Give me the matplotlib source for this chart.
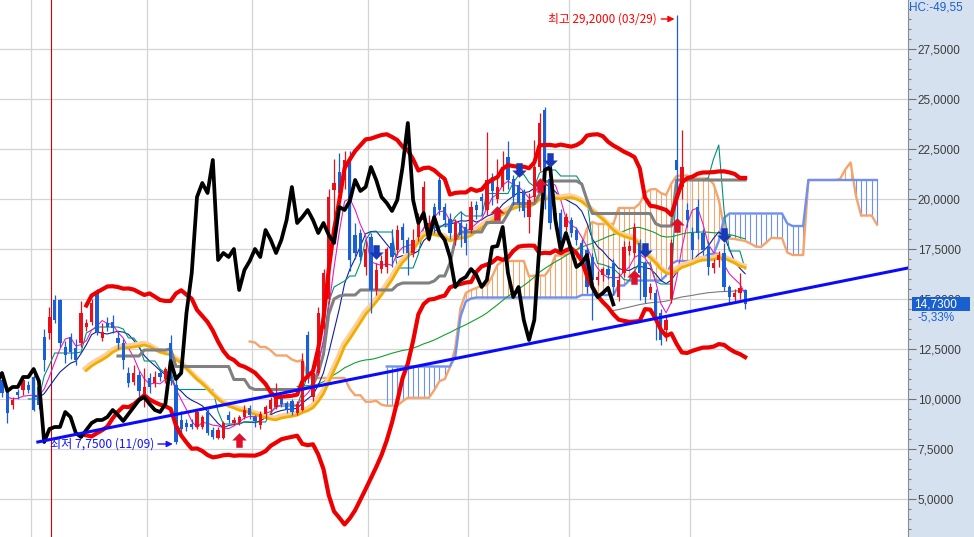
import numpy as np
import pandas as pd
import matplotlib
matplotlib.use('Agg')
import matplotlib.pyplot as plt
import matplotlib.patheffects as pe
from matplotlib.path import Path
from matplotlib.patches import Rectangle
from matplotlib.ticker import FuncFormatter
from matplotlib.transforms import blended_transform_factory

plt.rcParams['font.family'] = ['Liberation Sans', 'Noto Sans CJK KR', 'DejaVu Sans']

# ---------------- data (first 3 candles lie just left of the visible area) ----------------
opens = [10.6, 10.4, 10.1,
         10.95, 10.45, 9.7, 10.35, 10.45, 10.7, 11.1, 10.6, 13.1, 13.3,
         14.95, 14.95, 12.6, 13.1, 12.55, 12.8, 13.6, 13.85, 15.35, 13.05,
         13.8, 13.85, 13.05, 12.8, 11.3, 10.85, 11.2, 10.0, 11.05, 10.8,
         11.3, 11.0, 12.8, 10.7, 8.95, 8.8, 8.75, 8.6, 8.6, 9.35,
         8.45, 8.05, 8.05, 9.2, 8.8, 8.85, 9.1, 9.55, 9.1, 8.7,
         9.25, 9.5, 9.6, 10.1, 9.8, 9.9, 9.3, 9.45, 13.2, 10.1,
         11.3, 13.95, 15.0, 20.45, 21.35, 20.95, 21.95, 18.2, 18.3, 16.6,
         18.1, 15.45, 16.5, 16.6, 17.8, 17.45, 18.6, 17.95, 17.3, 18.1,
         18.95, 18.1, 19.6, 20.95, 19.6, 19.0, 17.95, 18.8, 18.6, 18.45,
         19.7, 20.1, 19.45, 21.1, 20.0, 20.6, 22.1, 21.0, 20.7, 20.4,
         19.1, 20.1, 21.6, 24.45, 21.0, 18.8, 19.3, 18.6, 18.95, 18.45,
         17.8, 17.45, 17.1, 15.95, 16.2, 16.5, 16.8, 15.1, 16.3, 17.4,
         17.3, 17.8, 16.8, 15.3, 15.3, 14.3, 13.45, 15.0, 21.95, 20.6,
         19.45, 18.3, 19.6, 18.3, 17.6, 16.55, 16.95, 17.3, 15.6, 15.1,
         15.3, 15.45]
highs = [10.9, 10.6, 10.6,
         11.2, 10.6, 10.1, 10.5, 11.1, 10.9, 11.2, 11.0, 13.5, 14.6,
         15.2, 15.0, 12.9, 13.3, 13.0, 14.9, 14.0, 15.0, 15.5, 13.8,
         14.1, 14.2, 13.4, 13.0, 11.6, 11.7, 11.4, 11.55, 11.3, 11.4,
         11.5, 11.6, 13.2, 11.0, 9.4, 9.0, 9.0, 9.5, 9.2, 9.5,
         8.6, 8.6, 8.9, 9.4, 9.1, 9.2, 9.7, 9.7, 9.2, 9.4,
         9.7, 10.1, 10.8, 10.2, 9.9, 10.0, 9.9, 12.3, 13.4, 11.6,
         14.6, 16.5, 20.5, 22.0, 22.3, 22.4, 22.4, 18.8, 18.5, 17.9,
         18.3, 16.8, 17.2, 17.6, 18.5, 18.7, 18.8, 18.1, 18.5, 19.3,
         20.9, 19.2, 19.8, 21.1, 19.8, 19.3, 19.0, 19.4, 18.8, 19.9,
         19.9, 20.3, 23.35, 21.3, 22.0, 22.4, 22.9, 21.2, 20.9, 20.5,
         20.3, 22.95, 24.3, 24.6, 21.8, 19.6, 19.5, 19.3, 19.1, 18.6,
         18.0, 17.6, 17.3, 16.4, 16.6, 16.7, 17.0, 16.3, 17.9, 17.9,
         18.8, 18.0, 16.9, 15.8, 15.5, 14.5, 14.2, 18.0, 29.2, 23.45,
         19.8, 18.6, 20.0, 18.5, 17.9, 17.0, 17.4, 17.8, 15.7, 15.5,
         16.3, 15.5]
lows = [10.2, 9.9, 10.0,
        10.1, 8.8, 9.5, 10.0, 10.2, 10.3, 9.4, 9.5, 11.4, 13.0,
        13.8, 12.6, 11.8, 12.0, 11.7, 12.6, 13.4, 13.7, 13.2, 12.9,
        13.4, 13.3, 12.5, 11.5, 10.6, 10.7, 9.9, 9.6, 10.3, 10.6,
        10.9, 10.8, 10.7, 7.75, 8.2, 8.4, 8.5, 8.5, 8.5, 8.2,
        8.0, 8.0, 8.0, 8.8, 8.7, 8.7, 9.0, 9.0, 8.6, 8.5,
        9.0, 9.3, 9.5, 9.6, 9.3, 9.2, 9.2, 9.4, 10.8, 9.9,
        11.2, 13.5, 14.8, 19.0, 19.9, 20.5, 16.4, 17.0, 16.9, 16.2,
        14.3, 15.2, 16.3, 16.3, 16.6, 17.2, 17.3, 16.2, 17.1, 17.9,
        18.6, 17.9, 18.3, 19.2, 18.6, 18.0, 17.7, 17.6, 17.2, 18.3,
        19.0, 19.2, 19.2, 19.7, 19.8, 20.4, 20.5, 19.7, 19.4, 19.1,
        18.3, 19.9, 21.4, 19.5, 18.5, 18.5, 17.7, 18.4, 18.1, 17.7,
        16.9, 15.3, 13.95, 15.7, 15.9, 16.0, 15.2, 14.9, 16.1, 17.2,
        17.1, 14.95, 14.8, 15.0, 12.95, 12.7, 12.9, 14.8, 18.6, 20.0,
        18.6, 17.0, 18.0, 17.2, 16.2, 16.3, 16.6, 15.4, 14.8, 14.9,
        15.0, 14.5]
closes = [10.4, 10.1, 10.4,
          10.3, 9.3, 9.95, 10.2, 10.95, 10.45, 9.45, 9.7, 11.95, 14.1,
          13.95, 12.8, 12.2, 12.35, 11.95, 14.3, 13.8, 14.8, 13.35, 13.35,
          13.6, 13.55, 12.8, 11.95, 10.8, 11.3, 10.4, 10.6, 10.6, 11.1,
          11.1, 11.5, 10.9, 7.85, 8.5, 8.6, 8.6, 9.35, 9.1, 8.3,
          8.1, 8.45, 8.8, 8.95, 8.95, 9.1, 9.45, 9.2, 8.9, 9.25,
          9.6, 9.95, 10.1, 9.75, 9.45, 9.35, 9.75, 11.9, 11.0, 11.3,
          14.3, 16.3, 20.1, 20.8, 20.3, 21.95, 16.95, 17.3, 17.1, 17.5,
          15.45, 16.45, 16.9, 17.5, 17.1, 18.45, 17.95, 17.3, 17.95, 18.95,
          20.6, 18.8, 19.1, 19.45, 18.95, 18.3, 18.8, 18.2, 17.8, 19.6,
          19.45, 19.9, 20.95, 20.4, 20.6, 21.6, 20.95, 20.1, 19.8, 19.4,
          19.95, 21.6, 23.8, 19.95, 18.8, 19.3, 18.0, 19.1, 18.3, 17.95,
          17.1, 15.6, 15.95, 16.1, 16.5, 16.2, 15.6, 15.95, 17.6, 17.65,
          18.6, 16.3, 15.1, 15.6, 13.95, 12.95, 13.95, 17.8, 21.45, 21.6,
          18.95, 17.45, 18.3, 17.45, 16.6, 16.8, 17.2, 15.6, 15.1, 15.3,
          15.56, 14.73]

n_hidden = 3
month_starts = [5.5, 27.5, 47.5, 69.5, 88.5, 107.5, 130.5]
cursor_idx = 9.3
trend_x = [6.8, 171.9]
trend_y = [7.85, 16.55]
buy_idx = [45, 94, 102, 120, 128]
buy_level = [7.95, 19.3, 20.7, 16.1, 18.7]
sell_idx = [71, 98, 104, 122, 137]
sell_level = [17.35, 21.45, 21.95, 17.45, 18.2]
low_label = "최저 7,7500 (11/09)"
high_label = "최고 29,2000 (03/29)"

# ---------------- indicators ----------------
o = np.array(opens); h = np.array(highs); l = np.array(lows); c = np.array(closes)
x = np.arange(len(c)) - n_hidden
C = pd.Series(c); H = pd.Series(h); L = pd.Series(l)
ma5 = C.rolling(5).mean()
ma10 = C.rolling(10).mean()
ma20 = C.rolling(20).mean()
ma60 = C.rolling(60).mean()
ma120 = C.rolling(120).mean()
sd20 = C.rolling(20).std(ddof=0)
bb_up = ma20 + 2 * sd20
bb_dn = ma20 - 2 * sd20
tenkan = (H.rolling(9).max() + L.rolling(9).min()) / 2
kijun = (H.rolling(26).max() + L.rolling(26).min()) / 2
spanA = (tenkan + kijun) / 2
spanB = (H.rolling(52).max() + L.rolling(52).min()) / 2
shift = 25

# ---------------- figure ----------------
fig = plt.figure(figsize=(9.74, 5.37), dpi=100)
fig.patch.set_facecolor('#d6e1ef')
ax = fig.add_axes([0, 0, 908 / 974, 1])
ax.set_facecolor('white')
ax.set_xlim(-0.38, 171.9)
ax.set_ylim(3.1, 29.95)
for s in ['top', 'left', 'bottom']:
    ax.spines[s].set_visible(False)
ax.spines['right'].set_color('#8c8c8c')
ax.yaxis.tick_right()
ax.set_yticks(np.arange(5, 28.0, 2.5))
ax.set_yticks(np.arange(3.5, 30.0, 0.5), minor=True)
ax.yaxis.set_major_formatter(FuncFormatter(lambda v, p: f"{v:.4f}".replace('.', ',')))
ax.tick_params(axis='y', which='major', length=6, width=0.8, color='#707070',
               labelcolor='#3c3c3c', labelsize=8.5, pad=1)
ax.tick_params(axis='y', which='minor', length=2.5, width=0.8, color='#808080')
ax.set_xticks([])
ax.grid(axis='y', which='major', color='#d4d4d4', lw=0.9, zorder=0)
ax.set_axisbelow(True)
for m in month_starts:
    ax.axvline(m, color='#d4d4d4', lw=0.9, zorder=0.5)
ax.axvline(cursor_idx, color='#d80000', lw=0.8, zorder=1.5)

# Ichimoku cloud
xa = x + shift
valid = (~spanA.isna() & ~spanB.isna()).values
A = spanA.values; B = spanB.values
hcol = np.where(A >= B, '#f5a46c', '#6e90f0')
ax.vlines(xa[valid], A[valid], B[valid], colors=hcol[valid], lw=0.8, zorder=2)
ax.plot(xa, A, color='#f5a46c', lw=1.7, zorder=2.2)
ax.plot(xa, B, color='#6e90f0', lw=1.7, zorder=2.2)

# moving averages
ax.plot(x, ma120, color='#7a7a7a', lw=0.8, zorder=3)
ax.plot(x, ma60, color='#10a030', lw=0.8, zorder=3)
ax.plot(x, ma10, color='#1020a0', lw=0.8, zorder=3.2)
ax.plot(x, tenkan, color='#00907a', lw=0.8, zorder=3.2)
ax.plot(x, ma5, color='#e020c0', lw=0.8, zorder=3.3)
ax.plot(x, ma20, color='#f0ae00', lw=2.0, zorder=3.5,
        path_effects=[pe.SimpleLineShadow(offset=(-0.8, 1.3), shadow_color='#ffcf9a',
                                          alpha=1.0, linewidth=3.6), pe.Normal()])
ax.plot(x, kijun, color='#808080', lw=2.2, zorder=3.6)

# candles
up = c >= o
cols = np.where(up, '#e8101a', '#1a5fd6')
ax.vlines(x, l, h, colors=cols, lw=0.9, zorder=5)
ax.bar(x, np.maximum(np.abs(c - o), 0.06), bottom=np.minimum(o, c), width=0.62,
       color=cols, linewidth=0, zorder=5)

# Bollinger bands and lagging span
ax.plot(x, bb_up, color='#ee0000', lw=3.0, zorder=5.5)
ax.plot(x, bb_dn, color='#ee0000', lw=3.0, zorder=5.5)
ax.plot(x - shift, c, color='black', lw=2.7, zorder=6)

# trend line
ax.plot(trend_x, trend_y, color='#0a0aff', lw=2.2, zorder=7)

# signal arrows
up_arrow = Path([(-0.22, -0.5), (0.22, -0.5), (0.22, 0.0), (0.5, 0.0), (0.0, 0.5),
                 (-0.5, 0.0), (-0.22, 0.0), (-0.22, -0.5)],
                [Path.MOVETO] + [Path.LINETO] * 6 + [Path.CLOSEPOLY])
dn_arrow = Path([(px, -py) for px, py in up_arrow.vertices], up_arrow.codes)
ax.scatter(buy_idx, buy_level, marker=up_arrow, s=110,
           color='#e0102a', linewidths=0, zorder=8)
ax.scatter(sell_idx, sell_level, marker=dn_arrow, s=110, color='#1838b8',
           linewidths=0, zorder=8)

# high / low labels
lo_i = int(np.argmin(l)) - n_hidden
hi_i = int(np.argmax(h)) - n_hidden
lo_v = l.min(); hi_v = h.max()
ax.annotate(low_label, xy=(lo_i - 0.6, lo_v), xytext=(lo_i - 4.2, lo_v),
            ha='right', va='center', color='#1414ff', fontsize=8.7,
            family=['Noto Sans CJK KR', 'DejaVu Sans'], zorder=9,
            arrowprops=dict(arrowstyle='-|>', color='#1414ff', lw=1.0,
                            mutation_scale=9, shrinkA=1, shrinkB=0))
ax.annotate(high_label, xy=(hi_i - 0.4, hi_v - 0.2), xytext=(hi_i - 3.7, hi_v - 0.2),
            ha='right', va='center', color='#ff0000', fontsize=8.5,
            family=['Noto Sans CJK KR', 'DejaVu Sans'], zorder=9,
            arrowprops=dict(arrowstyle='-|>', color='#ff0000', lw=1.0,
                            mutation_scale=9, shrinkA=1, shrinkB=0))

# right panel: current price box and stats
last = c[-1]; prev = c[-2]
chg = (last / prev - 1) * 100
hc = (last / hi_v - 1) * 100
tr = blended_transform_factory(ax.transAxes, ax.transData)
ax.add_patch(Rectangle((1.0044, last - 0.33), 0.0639, 0.68, transform=tr,
                       facecolor='#1a5fd0', edgecolor='none', clip_on=False, zorder=20))
ax.text(1.0066, last + 0.01, f"{last:.4f}".replace('.', ','), transform=tr, color='white',
        fontsize=8.5, ha='left', va='center', clip_on=False, zorder=21)
ax.text(1.011, last - 0.68, f"{chg:.2f}%".replace('.', ','), transform=tr,
        color='#1a5fd0', fontsize=8.5, ha='left', va='center', clip_on=False, zorder=21)
fig.text(909 / 974, 1 - 8 / 537, f"HC:{hc:.2f}".replace('.', ','), color='#1a5fd0',
         fontsize=8.5, ha='left', va='center')

fig.savefig('out.png', dpi=100, facecolor=fig.get_facecolor())
